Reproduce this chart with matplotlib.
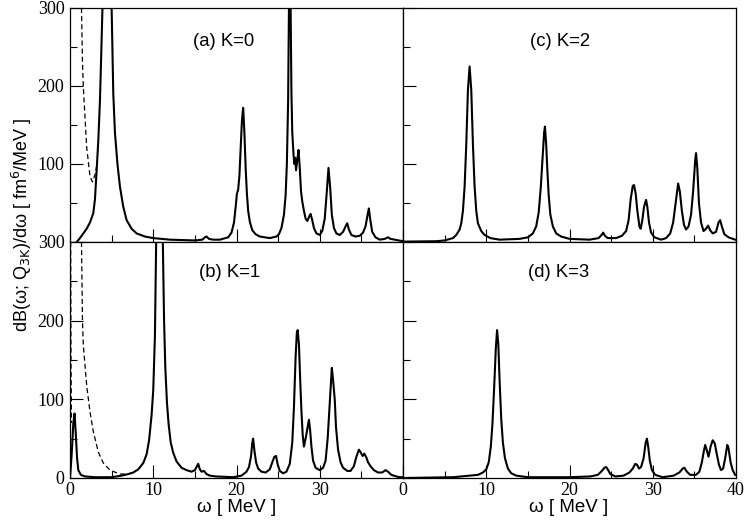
import matplotlib
matplotlib.use("Agg")
import matplotlib.pyplot as plt
from matplotlib.ticker import MultipleLocator, FixedLocator, NullFormatter, FixedFormatter

# ---------------- data ----------------
# (a) K=0  (omega, value) pairs
pts_a = [(0.8, 0), (1.2, 5), (1.6, 11), (2.0, 17), (2.4, 25), (2.8, 37), (3.0, 55), (3.2, 92),
         (3.4, 130), (3.6, 182), (3.75, 240), (3.9, 300), (4.2, 600), (4.5, 900), (4.8, 600),
         (5.0, 300), (5.2, 190), (5.4, 140), (5.7, 100), (6.0, 71), (6.4, 45), (6.8, 28),
         (7.4, 17), (8.0, 11), (9.0, 7), (10.0, 5), (12.0, 3), (15.0, 2), (15.9, 3), (16.2, 6),
         (16.4, 7), (16.7, 4), (17.2, 3), (18.0, 3), (19.0, 6), (19.4, 12), (19.7, 25),
         (19.9, 45), (20.05, 62), (20.2, 67), (20.35, 85), (20.5, 120), (20.65, 155),
         (20.8, 172), (20.95, 140), (21.1, 95), (21.25, 62), (21.4, 40), (21.6, 26),
         (21.9, 15), (22.3, 10), (22.8, 7), (24.0, 5), (24.8, 7), (25.1, 10), (25.4, 18),
         (25.7, 35), (25.9, 60), (26.05, 100), (26.2, 180), (26.3, 300), (26.4, 400),
         (26.5, 300), (26.6, 190), (26.7, 140), (26.85, 112), (26.95, 100), (27.05, 108),
         (27.15, 92), (27.3, 105), (27.45, 118), (27.6, 95), (27.75, 65), (27.9, 52),
         (28.1, 40), (28.3, 30), (28.5, 27), (28.75, 33), (28.9, 36), (29.1, 28), (29.3, 18),
         (29.6, 11), (30.0, 9), (30.3, 14), (30.6, 30), (30.85, 65), (31.05, 95), (31.25, 70),
         (31.45, 35), (31.7, 18), (32.0, 11), (32.4, 9), (32.8, 13), (33.1, 20), (33.3, 24),
         (33.5, 16), (33.8, 9), (34.3, 7), (34.8, 8), (35.2, 12), (35.5, 20), (35.75, 35),
         (35.9, 43), (36.05, 30), (36.3, 13), (36.7, 6), (37.2, 3), (37.8, 4), (38.2, 6),
         (38.5, 4), (39.0, 3), (39.5, 2), (40.0, 1)]
omega_a = [p[0] for p in pts_a]
val_a = [p[1] for p in pts_a]
omega_a_dash = [1.38, 1.5, 1.6, 2.0, 2.4, 2.7, 3.0, 3.25]
val_a_dash = [300, 230, 199, 122, 84, 77, 86, 100]

# (b) K=1
pts_b = [(0.0, 0), (0.2, 30), (0.4, 70), (0.55, 82), (0.7, 55), (0.85, 25), (1.0, 10),
         (1.3, 4), (1.8, 2), (3.0, 1), (5.0, 1), (6.2, 3), (7.0, 5), (7.6, 7), (8.2, 11),
         (8.8, 19), (9.2, 30), (9.5, 48), (9.8, 80), (10.0, 112), (10.2, 180), (10.35, 300),
         (10.6, 600), (10.9, 600), (11.15, 300), (11.3, 200), (11.45, 140), (11.65, 95),
         (11.85, 68), (12.1, 45), (12.4, 32), (12.8, 21), (13.4, 13), (14.0, 10), (14.6, 8),
         (15.0, 10), (15.2, 14), (15.4, 18), (15.6, 11), (15.8, 8), (16.1, 9), (16.4, 5),
         (16.8, 3), (17.5, 2), (19.6, 1), (20.6, 3), (21.2, 8), (21.5, 14), (21.75, 28),
         (21.9, 45), (22.0, 50), (22.15, 35), (22.35, 20), (22.6, 12), (23.0, 8), (23.5, 7),
         (24.0, 11), (24.3, 20), (24.55, 27), (24.75, 28), (24.95, 17), (25.2, 9), (25.6, 6),
         (26.0, 8), (26.4, 18), (26.7, 45), (26.9, 90), (27.1, 154), (27.25, 185),
         (27.35, 188), (27.5, 170), (27.65, 125), (27.8, 85), (27.95, 55), (28.1, 40),
         (28.3, 50), (28.5, 62), (28.7, 74), (28.85, 60), (29.0, 40), (29.2, 22), (29.5, 13),
         (30.0, 10), (30.4, 13), (30.7, 22), (30.95, 50), (31.2, 95), (31.45, 140),
         (31.6, 125), (31.8, 100), (31.95, 65), (32.2, 36), (32.5, 20), (32.8, 13), (33.3, 9),
         (33.7, 9), (34.1, 15), (34.4, 27), (34.7, 36), (34.95, 32), (35.15, 28), (35.35, 31),
         (35.6, 26), (35.8, 20), (36.1, 15), (36.5, 10), (37.0, 7), (37.5, 7), (37.9, 10),
         (38.2, 8), (38.6, 4), (39.2, 2), (39.6, 1), (40.0, 1)]
omega_b = [p[0] for p in pts_b]
val_b = [p[1] for p in pts_b]
omega_b_dash1 = [0.08, 0.12, 0.18]
val_b_dash1 = [300, 150, 70]
omega_b_dash2 = [1.38, 1.5, 1.6, 2.0, 2.4, 2.8, 3.4, 4.0, 4.8, 6.0, 7.0, 7.6]
val_b_dash2 = [300, 199, 169, 118, 84, 59, 33, 19, 10, 5, 5, 7]

# (c) K=2
pts_c = [(0.0, 0.5), (4.0, 1), (5.0, 2), (6.0, 5), (6.4, 9), (6.8, 16), (7.0, 24), (7.2, 40),
         (7.4, 71), (7.6, 125), (7.8, 195), (8.0, 225), (8.2, 195), (8.4, 125), (8.6, 71),
         (8.8, 40), (9.0, 24), (9.4, 14), (9.8, 9), (10.5, 5), (11.6, 3), (14.0, 4), (15.0, 6),
         (15.6, 11), (16.0, 20), (16.3, 38), (16.55, 70), (16.75, 105), (16.95, 140),
         (17.05, 148), (17.2, 125), (17.35, 90), (17.5, 60), (17.7, 35), (18.0, 20),
         (18.4, 11), (19.0, 7), (20.0, 4), (22.4, 3), (23.5, 5), (23.85, 9), (24.05, 12),
         (24.25, 8), (24.6, 5), (25.6, 5), (26.3, 8), (26.8, 14), (27.1, 28), (27.35, 55),
         (27.6, 72), (27.75, 73), (27.95, 62), (28.15, 40), (28.4, 20), (28.55, 17),
         (28.75, 28), (28.95, 45), (29.2, 54), (29.35, 45), (29.55, 25), (29.8, 12), (30.2, 6),
         (31.0, 3), (31.6, 5), (32.1, 11), (32.45, 25), (32.75, 50), (33.05, 75), (33.25, 65),
         (33.5, 40), (33.75, 22), (34.0, 16), (34.3, 20), (34.6, 35), (34.85, 65), (35.1, 105),
         (35.2, 114), (35.35, 95), (35.55, 50), (35.8, 25), (36.1, 14), (36.4, 17),
         (36.65, 21), (36.9, 15), (37.2, 11), (37.6, 13), (37.9, 25), (38.1, 28), (38.3, 20),
         (38.6, 10), (39.1, 6), (39.9, 3)]
omega_c = [p[0] for p in pts_c]
val_c = [p[1] for p in pts_c]

# (d) K=3
pts_d = [(0.0, 0), (6.0, 1), (8.0, 3), (9.0, 4), (9.6, 7), (10.0, 11), (10.3, 20), (10.55, 40),
         (10.75, 70), (10.95, 115), (11.15, 165), (11.3, 188), (11.45, 170), (11.6, 125),
         (11.8, 75), (12.0, 45), (12.25, 25), (12.6, 12), (13.0, 6), (13.6, 3), (15.0, 1),
         (20.0, 1), (22.5, 2), (23.4, 4), (23.8, 8), (24.2, 13), (24.4, 14), (24.65, 10),
         (24.9, 5), (25.5, 2), (26.5, 3), (27.2, 7), (27.6, 12), (27.9, 18), (28.1, 17),
         (28.35, 12), (28.6, 14), (28.9, 25), (29.15, 45), (29.3, 50), (29.45, 40),
         (29.65, 22), (29.9, 10), (30.3, 4), (31.2, 1), (32.5, 3), (33.2, 7), (33.6, 12),
         (33.8, 13), (34.1, 8), (34.5, 4), (35.2, 4), (35.6, 8), (35.9, 20), (36.15, 35),
         (36.3, 42), (36.5, 35), (36.7, 27), (36.95, 40), (37.2, 48), (37.45, 44), (37.7, 30),
         (37.95, 17), (38.2, 10), (38.45, 12), (38.7, 25), (38.95, 42), (39.1, 38),
         (39.35, 20), (39.6, 10), (39.9, 4)]
omega_d = [p[0] for p in pts_d]
val_d = [p[1] for p in pts_d]

panel_labels = ["(a) K=0", "(b) K=1", "(c) K=2", "(d) K=3"]
ytick_vals = [0, 100, 200, 300]
xtick_vals = [0, 10, 20, 30, 40]

# ---------------- figure ----------------
fig = plt.figure(figsize=(7.47, 5.24), dpi=100)
serif = "Liberation Serif"
sans = "Liberation Sans"

L, R = 70 / 747, 403 / 747
W = 333 / 747
B_bot, B_top = 1 - 478 / 524, 1 - 242 / 524
H_bot, H_top = 236 / 524, 234 / 524

axA = fig.add_axes([L, B_top, W, H_top])
axB = fig.add_axes([L, B_bot, W, H_bot])
axC = fig.add_axes([R, B_top, W, H_top])
axD = fig.add_axes([R, B_bot, W, H_bot])

lw = 1.5
dash = (0, (4, 2.5))
axA.plot(omega_a, val_a, color="black", lw=lw)
axA.plot(omega_a_dash, val_a_dash, color="black", lw=0.9, ls=dash)
axB.plot(omega_b, val_b, color="black", lw=lw)
axB.plot(omega_b_dash1, val_b_dash1, color="black", lw=0.9, ls=dash)
axB.plot(omega_b_dash2, val_b_dash2, color="black", lw=0.9, ls=dash)
axC.plot(omega_c, val_c, color="black", lw=lw)
axD.plot(omega_d, val_d, color="black", lw=lw)

for ax, lab, ypos, xpos in [(axA, panel_labels[0], 0.855, 0.462),
                            (axB, panel_labels[1], 0.87, 0.48),
                            (axC, panel_labels[2], 0.855, 0.47),
                            (axD, panel_labels[3], 0.87, 0.468)]:
    ax.text(xpos, ypos, lab, transform=ax.transAxes, ha="center", va="center",
            fontsize=13.3, family=sans)

for ax in (axA, axB, axC, axD):
    ax.set_xlim(0, 40)
    ax.set_ylim(0, 300)
    ax.xaxis.set_major_locator(FixedLocator(xtick_vals))
    ax.xaxis.set_minor_locator(MultipleLocator(5))
    ax.yaxis.set_major_locator(FixedLocator(ytick_vals))
    ax.yaxis.set_minor_locator(MultipleLocator(50))
    ax.tick_params(which="both", direction="in", top=False, right=False, width=0.8)
    ax.tick_params(which="major", length=9.4, labelsize=13, pad=4)
    ax.tick_params(which="minor", length=4.7)
    ax.tick_params(axis="x", pad=3)
    for s in ax.spines.values():
        s.set_linewidth(0.9)

# tick labels
axA.xaxis.set_major_formatter(NullFormatter())
axC.xaxis.set_major_formatter(NullFormatter())
axC.yaxis.set_major_formatter(NullFormatter())
axD.yaxis.set_major_formatter(NullFormatter())
axA.yaxis.set_major_formatter(FixedFormatter(["", "100", "200", "300"]))
axB.yaxis.set_major_formatter(FixedFormatter(["0", "100", "200", "300"]))
axB.xaxis.set_major_formatter(FixedFormatter(["0", "10", "20", "30", ""]))
axD.xaxis.set_major_formatter(FixedFormatter(["0", "10", "20", "30", "40"]))
for ax in (axA, axB, axC, axD):
    for t in ax.get_xticklabels() + ax.get_yticklabels():
        t.set_family(serif)

fig.text(0.317, 0.031, "ω [ MeV ]", ha="center", va="center", fontsize=13.5, family=sans)
fig.text(0.761, 0.031, "ω [ MeV ]", ha="center", va="center", fontsize=13.5, family=sans)
fig.text(0.030, 0.571, r"dB(ω; Q$_{\rm 3K}$)/dω [ fm$^{\rm 6}$/MeV ]", rotation=90,
         ha="center", va="center", fontsize=13, family=sans)

fig.savefig("out.png", dpi=100)
